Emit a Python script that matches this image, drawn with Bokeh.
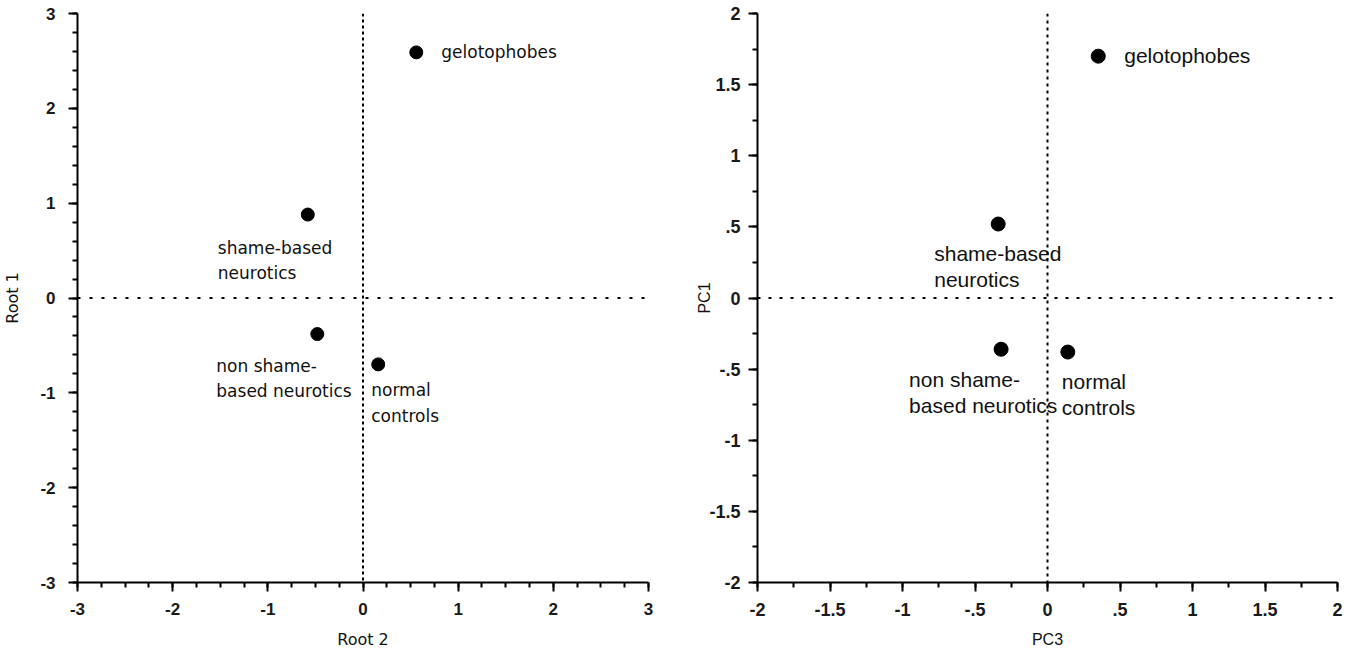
from bokeh.plotting import figure
from bokeh.layouts import row
from bokeh.models import Range1d, Span, ColumnDataSource, FixedTicker
from bokeh.embed import file_html
from bokeh.resources import INLINE
from bokeh.core.properties import value

# ---- data: left panel (discriminant roots) ----
groups = ["gelotophobes", "shame-based\nneurotics", "non shame-\nbased neurotics", "normal\ncontrols"]
root2 = [0.56, -0.58, -0.48, 0.16]
root1 = [2.59, 0.88, -0.38, -0.70]

# ---- data: right panel (principal components) ----
groups_pc = ["gelotophobes", "shame-based\nneurotics", "non shame-\nbased  neurotics", "normal\ncontrols"]
pc3 = [0.35, -0.34, -0.32, 0.14]
pc1 = [1.70, 0.52, -0.36, -0.38]

left_ticks = [-3, -2, -1, 0, 1, 2, 3]
left_tick_labels = ["-3", "-2", "-1", "0", "1", "2", "3"]
right_ticks = [-2, -1.5, -1, -0.5, 0, 0.5, 1, 1.5, 2]
right_tick_labels = ["-2", "-1.5", "-1", "-.5", "0", ".5", "1", "1.5", "2"]

# ---- styles ----
left_xoff = [25, -90, -101, -7]
left_yoff = [-10, 23, 22, 16]
right_xoff = [26, -64, -92, -6]
right_yoff = [-12, 18, 19, 18]


def style_axes(p, font, tick_size, xstand, ystand, ylab_stand):
    for ax in (p.xaxis[0], p.yaxis[0]):
        ax.axis_line_width = 2
        ax.axis_line_color = "black"
        ax.major_tick_line_width = 2
        ax.minor_tick_line_width = 2
        ax.major_tick_in = 0
        ax.major_tick_out = 9
        ax.minor_tick_in = 0
        ax.minor_tick_out = 5
        ax.major_label_text_font = "Liberation Sans"
        ax.major_label_text_font_size = tick_size
        ax.major_label_text_font_style = "bold"
        ax.major_label_text_color = "#1a1a1a"
        ax.axis_label_text_font = font
        ax.axis_label_text_font_style = "normal"
        ax.axis_label_text_font_size = "16px"
        ax.axis_label_text_color = "#111111"
    p.xaxis[0].major_label_standoff = xstand
    p.yaxis[0].major_label_standoff = ystand
    p.xaxis[0].axis_label_standoff = 12
    p.yaxis[0].axis_label_standoff = ylab_stand
    p.xgrid.visible = False
    p.ygrid.visible = False
    p.outline_line_color = None


# ---- left figure ----
p1 = figure(output_backend="svg", toolbar_location=None,
            frame_width=571, frame_height=569,
            min_border_left=77, min_border_right=41, min_border_top=13, min_border_bottom=60,
            x_range=Range1d(-3, 3), y_range=Range1d(-3, 3),
            x_axis_label="Root 2", y_axis_label="Root 1")
p1.xaxis.ticker = FixedTicker(ticks=left_ticks,
                              minor_ticks=[t / 4 for t in range(-12, 13)])
p1.yaxis.ticker = FixedTicker(ticks=left_ticks,
                              minor_ticks=[t / 5 for t in range(-15, 16)])
p1.xaxis.major_label_overrides = {t: l for t, l in zip(left_ticks, left_tick_labels)}
p1.yaxis.major_label_overrides = {t: l for t, l in zip(left_ticks, left_tick_labels)}
style_axes(p1, "DejaVu Sans", "17px", 11, 13, 15)

p1.add_layout(Span(location=0, dimension="width", line_color="black",
                   line_width=2, line_dash="3 9"))
p1.add_layout(Span(location=0, dimension="height", line_color="black",
                   line_width=2, line_dash="3 3"))

src1 = ColumnDataSource(dict(x=root2, y=root1, t=groups, xo=left_xoff, yo=left_yoff))
p1.scatter("x", "y", source=src1, size=13, color="black")
p1.text("x", "y", text="t", source=src1, x_offset="xo", y_offset="yo",
        text_font=value("DejaVu Sans"), text_font_size="17px",
        text_baseline="top", text_align="left", text_line_height=1.26,
        text_color="#111111")

# ---- right figure ----
p2 = figure(output_backend="svg", toolbar_location=None,
            frame_width=580, frame_height=569,
            min_border_left=68, min_border_right=8, min_border_top=13, min_border_bottom=60,
            x_range=Range1d(-2, 2), y_range=Range1d(-2, 2),
            x_axis_label="PC3", y_axis_label="PC1")
minor_r = [t / 4 for t in range(-8, 9)]
p2.xaxis.ticker = FixedTicker(ticks=right_ticks, minor_ticks=minor_r)
p2.yaxis.ticker = FixedTicker(ticks=right_ticks, minor_ticks=minor_r)
p2.xaxis.major_label_overrides = {t: l for t, l in zip(right_ticks, right_tick_labels)}
p2.yaxis.major_label_overrides = {t: l for t, l in zip(right_ticks, right_tick_labels)}
style_axes(p2, "Liberation Sans", "18px", 11, 8, -7)

p2.add_layout(Span(location=0, dimension="width", line_color="black",
                   line_width=2, line_dash="3 8"))
p2.add_layout(Span(location=0, dimension="height", line_color="black",
                   line_width=2, line_dash="3 4"))

src2 = ColumnDataSource(dict(x=pc3, y=pc1, t=groups_pc, xo=right_xoff, yo=right_yoff))
p2.scatter("x", "y", source=src2, size=14, color="black")
p2.text("x", "y", text="t", source=src2, x_offset="xo", y_offset="yo",
        text_font=value("Liberation Sans"), text_font_size="21px",
        text_baseline="top", text_align="left", text_line_height=1.12,
        text_color="#111111")

layout = row(p1, p2)
open("out.html", "w").write(file_html(layout, INLINE))
